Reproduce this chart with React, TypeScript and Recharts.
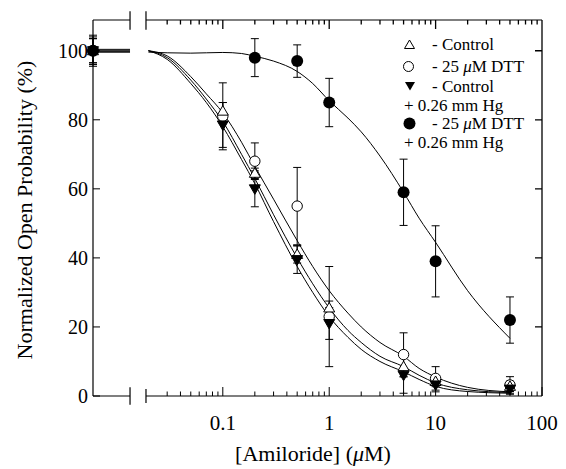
import { ComposedChart, Line, Scatter, ErrorBar, XAxis, YAxis, ReferenceLine } from "recharts";

// measured amiloride concentrations (µM)
const conc = [0.1, 0.2, 0.5, 1, 5, 10, 50];
const controlMean = [82.5, 64.5, 41, 25.5, 8.5, 4.2, 2.8];
const controlErr = [2.5, 1.5, 2.5, 2, 3, 1.5, 1.5];
const dttMean = [81, 68, 55, 23, 12, 5.1, 3.2];
const dttErr = [9.7, 5.3, 11.2, 14.5, 6.3, 3.4, 2.4];
const hgMean = [78.5, 60, 39.5, 21, 6, 3.2, 2];
const hgErr = [6.5, 5.2, 4, 4.6, 5.2, 2, 1.5];
const dttHgConc = [0.2, 0.5, 1, 5, 10, 50];
const dttHgMean = [98, 97, 85, 59, 39, 22];
const dttHgErr = [5.5, 4.7, 7, 9.6, 10.3, 6.7];

// no amiloride, shown left of the axis break: control, dtt, hg, dtt+hg
const zeroMean = [100, 100, 100, 100];
const zeroErr = [3.5, 4.5, 4, 3.5];

// fitted curves
const fitConc = [0.02, 0.03, 0.05, 0.07, 0.1, 0.15, 0.2, 0.3, 0.5, 0.7, 1, 1.5, 2, 3, 5, 7, 10, 20, 50];
const controlFit = [100, 98, 91.5, 86, 79.5, 70, 63, 52.5, 40, 32.5, 25.5, 19, 15.5, 11.5, 8.5, 6, 3.8, 1.8, 1];
const dttFit = [100, 98.5, 92.5, 87.5, 82, 73.5, 66.5, 57, 45, 37.5, 30.5, 24, 20, 15.5, 11.5, 8, 5.5, 2.5, 1.2];
const hgFit = [100, 97.5, 90.5, 85, 78, 68.5, 61.5, 50.5, 37.5, 30, 23, 17, 13.5, 10, 7, 4.8, 2.8, 1.3, 0.8];
const dttHgFit = [99.6, 99.4, 99.3, 99.4, 99.5, 99.2, 98.4, 97, 94, 90.5, 85.5, 80.5, 76.5, 69.5, 59, 51.5, 44.5, 30.5, 16.7];
const zeroFit = [100, 100.4, 99.6, 99.7];

const xTickConc = [0.1, 1, 10, 100];
const xTickLabels = ["0.1", "1", "10", "100"];
const xMinorConc = [0.03, 0.04, 0.05, 0.06, 0.07, 0.08, 0.09, 0.2, 0.3, 0.4, 0.5, 0.6, 0.7, 0.8, 0.9, 2, 3, 4, 5, 6, 7, 8, 9, 20, 30, 40, 50, 60, 70, 80, 90];
const yTicks = [0, 20, 40, 60, 80, 100];

const X_MIN = -2.22;
const X_MAX = 2;
const BREAK_L = -1.872;
const BREAK_R = -1.722;
const Y_MAX = 108.9;
const FONT = "'Liberation Serif', 'Times New Roman', serif";

// plot box (same numbers as the chart margins / axis sizes below)
const W = 566;
const H = 469;
const LEFT = 93;
const RIGHT = W - 24;
const TOP = 20;
const BOTTOM = H - 23 - 50;

const lg = Math.log10;
const xMajor = xTickConc.map(lg);
const xTicks = [...xMajor, ...xMinorConc.map(lg)].sort((a, b) => a - b);
const px = (x: number) => LEFT + ((x - X_MIN) / (X_MAX - X_MIN)) * (RIGHT - LEFT);
const py = (v: number) => BOTTOM - (v / Y_MAX) * (BOTTOM - TOP);

const points = (xs: number[], ys: number[], es: number[], i: number) => [
  { x: X_MIN, y: zeroMean[i], err: zeroErr[i] },
  ...xs.map((c, k) => ({ x: lg(c), y: ys[k], err: es[k] })),
];
const fit = (ys: number[], i: number) => [
  { x: X_MIN, y: zeroFit[i] },
  { x: BREAK_L, y: zeroFit[i] },
  { x: (BREAK_L + BREAK_R) / 2, y: null },
  ...fitConc.map((c, k) => ({ x: lg(c), y: ys[k] })),
];

const majorIndex = (v: number) => xMajor.findIndex((m) => Math.abs(m - v) < 1e-6);

const BottomTick = ({ x, y, payload }: any) => {
  const i = majorIndex(payload.value);
  return (
    <g>
      <line x1={x} x2={x} y1={y} y2={y - (i >= 0 ? 9 : 4.5)} stroke="#000" strokeWidth={1} />
      {i >= 0 && (
        <text x={x} y={y + 34} textAnchor="middle" fontFamily={FONT} fontSize={21} fill="#000">
          {xTickLabels[i]}
        </text>
      )}
    </g>
  );
};

const LeftTick = ({ x, y, payload }: any) => (
  <g>
    <line x1={x} x2={x + 7} y1={y} y2={y} stroke="#000" strokeWidth={1} />
    <text x={x - 5} y={y + 7} textAnchor="end" fontFamily={FONT} fontSize={20} fill="#000">
      {payload.value}
    </text>
  </g>
);

const UpTriangle = ({ cx, cy }: any) => (
  <path d={`M${cx},${cy - 5.5} L${cx + 5.5},${cy + 4} L${cx - 5.5},${cy + 4} Z`} fill="#fff" stroke="#000" strokeWidth={1} />
);
const DownTriangle = ({ cx, cy }: any) => (
  <path d={`M${cx - 5.5},${cy - 4} L${cx + 5.5},${cy - 4} L${cx},${cy + 5.5} Z`} fill="#000" stroke="#000" strokeWidth={1} />
);
const OpenCircle = ({ cx, cy }: any) => <circle cx={cx} cy={cy} r={5.2} fill="#fff" stroke="#000" strokeWidth={1} />;
const FilledCircle = ({ cx, cy }: any) => <circle cx={cx} cy={cy} r={6} fill="#000" />;

// frame with the axis break
const frame = [
  [{ x: X_MIN, y: 0 }, { x: BREAK_L, y: 0 }],
  [{ x: BREAK_R, y: 0 }, { x: X_MAX, y: 0 }],
  [{ x: X_MIN, y: Y_MAX }, { x: BREAK_L, y: Y_MAX }],
  [{ x: BREAK_R, y: Y_MAX }, { x: X_MAX, y: Y_MAX }],
  [{ x: BREAK_L, y: -2.5 }, { x: BREAK_L, y: 2.5 }],
  [{ x: BREAK_R, y: -2 }, { x: BREAK_R, y: 2 }],
  [{ x: BREAK_L, y: Y_MAX - 2.8 }, { x: BREAK_L, y: Y_MAX + 2.5 }],
  [{ x: BREAK_R, y: Y_MAX - 2.8 }, { x: BREAK_R, y: Y_MAX + 2.5 }],
];

// right edge + inward ticks on the top and right edges, as one path
const edgePath = [
  `M${RIGHT},${TOP} L${RIGHT},${BOTTOM}`,
  ...xTicks.map((t) => `M${px(t)},${TOP} L${px(t)},${TOP + (majorIndex(t) >= 0 ? 9 : 4.5)}`),
  ...yTicks.slice(1).map((v) => `M${RIGHT},${py(v)} L${RIGHT - 7},${py(v)}`),
].join(" ");

export default function App() {
  return (
    <div style={{ position: "absolute", left: 0, top: 0, width: W, height: H, background: "#fff" }}>
      <ComposedChart width={W} height={H} margin={{ top: TOP, right: W - RIGHT, bottom: 23, left: 0 }}>
        <XAxis
          dataKey="x"
          type="number"
          domain={[X_MIN, X_MAX]}
          ticks={xTicks}
          interval={0}
          axisLine={false}
          tickLine={false}
          tickSize={0}
          tickMargin={0}
          height={50}
          tick={<BottomTick />}
        />
        <YAxis
          type="number"
          domain={[0, Y_MAX]}
          ticks={yTicks}
          interval={0}
          width={LEFT}
          axisLine={{ stroke: "#000", strokeWidth: 1.2 }}
          tickLine={false}
          tickSize={0}
          tickMargin={0}
          tick={<LeftTick />}
        />
        {frame.map((seg, i) => (
          <ReferenceLine key={`f${i}`} segment={seg} stroke="#000" strokeWidth={1.2} ifOverflow="visible" />
        ))}

        <Line data={fit(dttFit, 1)} dataKey="y" type="monotone" stroke="#000" strokeWidth={1} dot={false} isAnimationActive={false} />
        <Line data={fit(controlFit, 0)} dataKey="y" type="monotone" stroke="#000" strokeWidth={1} dot={false} isAnimationActive={false} />
        <Line data={fit(hgFit, 2)} dataKey="y" type="monotone" stroke="#000" strokeWidth={1} dot={false} isAnimationActive={false} />
        <Line data={fit(dttHgFit, 3)} dataKey="y" type="monotone" stroke="#000" strokeWidth={1} dot={false} isAnimationActive={false} />

        <Scatter data={points(conc, dttMean, dttErr, 1)} dataKey="y" shape={<OpenCircle />} isAnimationActive={false}>
          <ErrorBar dataKey="err" direction="y" width={4} stroke="#000" strokeWidth={1} isAnimationActive={false} />
        </Scatter>
        <Scatter data={points(conc, controlMean, controlErr, 0)} dataKey="y" shape={<UpTriangle />} isAnimationActive={false}>
          <ErrorBar dataKey="err" direction="y" width={4} stroke="#000" strokeWidth={1} isAnimationActive={false} />
        </Scatter>
        <Scatter data={points(conc, hgMean, hgErr, 2)} dataKey="y" shape={<DownTriangle />} isAnimationActive={false}>
          <ErrorBar dataKey="err" direction="y" width={4} stroke="#000" strokeWidth={1} isAnimationActive={false} />
        </Scatter>
        <Scatter data={points(dttHgConc, dttHgMean, dttHgErr, 3)} dataKey="y" shape={<FilledCircle />} isAnimationActive={false}>
          <ErrorBar dataKey="err" direction="y" width={4} stroke="#000" strokeWidth={1} isAnimationActive={false} />
        </Scatter>
      </ComposedChart>

      <svg width={W} height={H} style={{ position: "absolute", left: 0, top: 0, pointerEvents: "none", zIndex: 2 }}>
        <path d={edgePath} fill="none" stroke="#000" strokeWidth={1.3} />

        <g fontFamily={FONT} fill="#000">
          <text x={313} y={461} textAnchor="middle" fontSize={22}>
            [Amiloride] (<tspan fontStyle="italic">μ</tspan>M)
          </text>
          <text x={32} y={210} textAnchor="middle" fontSize={22} transform="rotate(-90 32 210)">
            Normalized Open Probability (%)
          </text>

          <path d="M409.5,40 L414.5,48.5 L404.5,48.5 Z" fill="#fff" stroke="#000" strokeWidth={1} />
          <text x={432} y={50} fontSize={17}>- Control</text>
          <circle cx={408.5} cy={66.5} r={5} fill="#fff" stroke="#000" strokeWidth={1} />
          <text x={432} y={72} fontSize={17}>
            - 25 <tspan fontStyle="italic">μ</tspan>M DTT
          </text>
          <path d="M405,82 L415,82 L410,90.5 Z" fill="#000" />
          <text x={432} y={91.5} fontSize={17}>- Control</text>
          <text x={404} y={111} fontSize={17}>+ 0.26 mm Hg</text>
          <circle cx={409.5} cy={123.5} r={6} fill="#000" />
          <text x={432} y={129} fontSize={17}>
            - 25 <tspan fontStyle="italic">μ</tspan>M DTT
          </text>
          <text x={404} y={148} fontSize={17}>+ 0.26 mm Hg</text>
        </g>
      </svg>
    </div>
  );
}
